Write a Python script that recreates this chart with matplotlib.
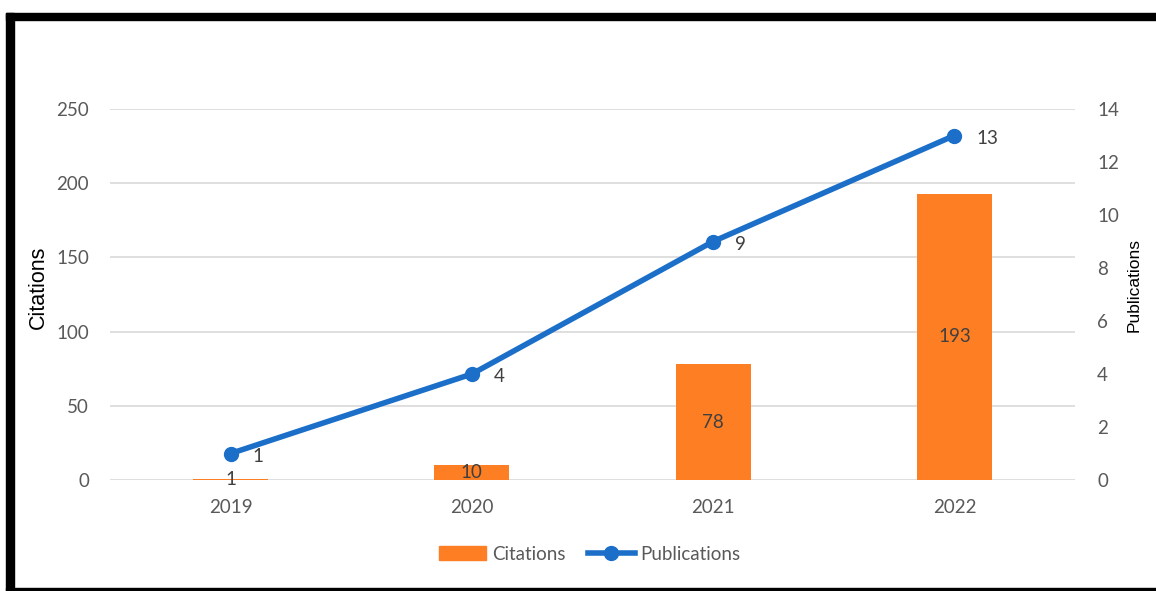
import matplotlib.pyplot as plt
from matplotlib.patches import Rectangle
from matplotlib.lines import Line2D

years = ['2019', '2020', '2021', '2022']
citations = [1, 10, 78, 193]
publications = [1, 4, 9, 13]

ORANGE = '#FD7E23'
BLUE = '#1B6FC8'
GREY = '#595959'

plt.rcParams['font.family'] = ['Lato', 'DejaVu Sans']

fig = plt.figure(figsize=(11.56, 5.91), dpi=100)
W, H = 1156, 591
ax = fig.add_axes([110 / W, 1 - 480 / H, (1075 - 110) / W, (480 - 109) / H])
ax2 = ax.twinx()

x = range(len(years))
ax.bar(x, citations, width=0.31, color=ORANGE, zorder=2, label='Citations')
for xi, v in zip(x, citations):
    ax.text(xi, v / 2, str(v), ha='center', va='center', fontsize=13.5, color='#404040', zorder=5)

ax2.plot(x, publications, color=BLUE, lw=4, marker='o', ms=10, zorder=3, label='Publications')
for xi, v in zip(x, publications):
    ax2.annotate(str(v), (xi, v), xytext=(16, -2), textcoords='offset points',
                 ha='left', va='center', fontsize=13.5, color='#404040')

ax.set_xlim(-0.5, 3.5)
ax.set_ylim(0, 250)
ax.set_yticks(range(0, 251, 50))
ax2.set_ylim(0, 14)
ax2.set_yticks(range(0, 15, 2))
ax.set_xticks(list(x))
ax.set_xticklabels(years)

ax.grid(axis='y', color='#D9D9D9', lw=1.2, zorder=0)
ax.set_axisbelow(True)
for a in (ax, ax2):
    for s in a.spines.values():
        s.set_visible(False)
    a.tick_params(length=0, labelsize=13.5, labelcolor=GREY)
ax.tick_params(axis='y', pad=15)
ax2.tick_params(axis='y', pad=16)
ax.tick_params(axis='x', pad=14)

ax.set_ylabel('Citations', fontsize=15.5, color='black', family='Liberation Sans')
ax.yaxis.set_label_coords(-0.063, 0.52)
ax2.set_ylabel('Publications', fontsize=12.5, color='black', family='Liberation Sans')
ax2.yaxis.set_label_coords(1.054, 0.526)

handles = [Rectangle((0, 0), 1, 1, color=ORANGE),
           Line2D([0], [0], color=BLUE, lw=4, marker='o', ms=10)]
fig.legend(handles, ['Citations', 'Publications'], loc='center', bbox_to_anchor=(590 / W, 1 - 554 / H),
           ncol=2, frameon=False, fontsize=13.5, labelcolor=GREY, handlelength=2.5,
           columnspacing=1.2, handletextpad=0.3)

# black frame
fig.patches.append(Rectangle((6 / W, 0), 8 / W, 1 - 13 / H, color='black', transform=fig.transFigure))
fig.patches.append(Rectangle((6 / W, 1 - 20 / H), 1, 7 / H, color='black', transform=fig.transFigure))
fig.patches.append(Rectangle((6 / W, 1 - 590 / H), 1, 2 / H, color='black', transform=fig.transFigure))

fig.savefig('out.png', dpi=100)
